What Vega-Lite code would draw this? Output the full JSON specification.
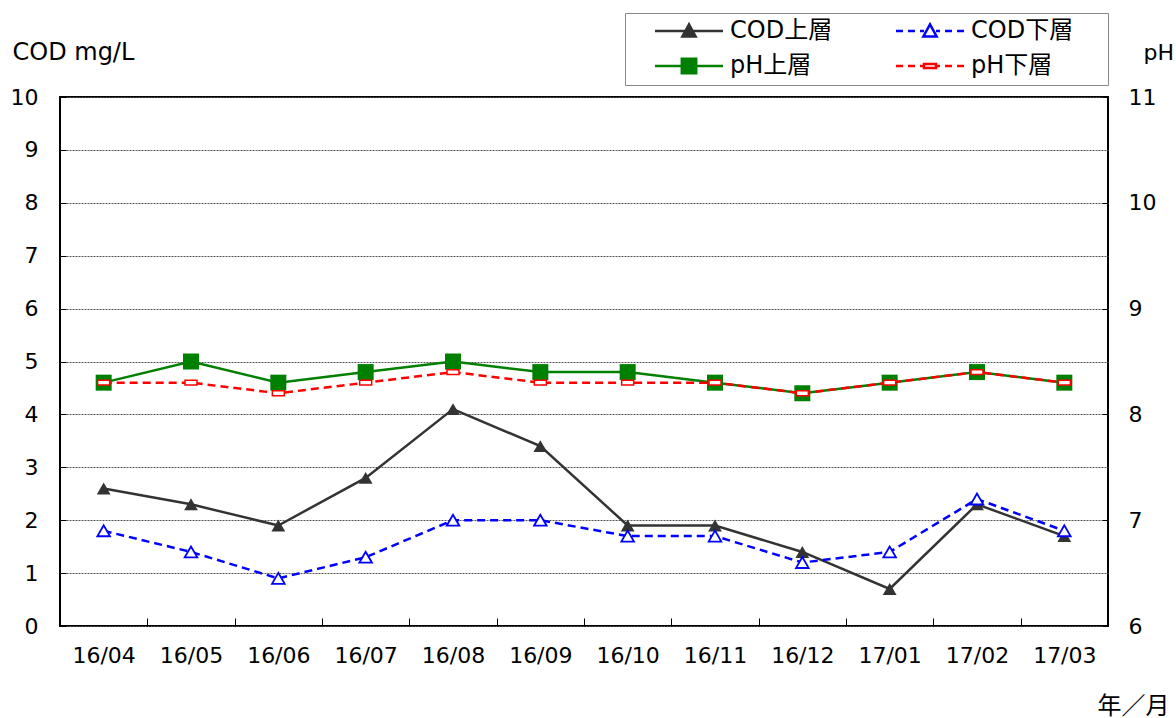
{
  "$schema": "https://vega.github.io/schema/vega-lite/v6.json",
  "width": 1048,
  "height": 529,
  "autosize": {"type": "none"},
  "padding": {"left": 60, "top": 97, "right": 68, "bottom": 92},
  "background": "white",
  "config": {
    "font": "DejaVu Sans, Noto Sans CJK JP",
    "view": {"stroke": "black", "strokeWidth": 2},
    "axis": {"labelFont": "DejaVu Sans, Noto Sans CJK JP", "titleFont": "DejaVu Sans, Noto Sans CJK JP", "labelColor": "black", "titleColor": "black", "titleFontWeight": "normal"}
  },
  "data": {
    "values": [
      {"month": "16/04", "cod_u": 2.6, "cod_l": 1.8, "ph_u": 8.3, "ph_l": 8.3},
      {"month": "16/05", "cod_u": 2.3, "cod_l": 1.4, "ph_u": 8.5, "ph_l": 8.3},
      {"month": "16/06", "cod_u": 1.9, "cod_l": 0.9, "ph_u": 8.3, "ph_l": 8.2},
      {"month": "16/07", "cod_u": 2.8, "cod_l": 1.3, "ph_u": 8.4, "ph_l": 8.3},
      {"month": "16/08", "cod_u": 4.1, "cod_l": 2.0, "ph_u": 8.5, "ph_l": 8.4},
      {"month": "16/09", "cod_u": 3.4, "cod_l": 2.0, "ph_u": 8.4, "ph_l": 8.3},
      {"month": "16/10", "cod_u": 1.9, "cod_l": 1.7, "ph_u": 8.4, "ph_l": 8.3},
      {"month": "16/11", "cod_u": 1.9, "cod_l": 1.7, "ph_u": 8.3, "ph_l": 8.3},
      {"month": "16/12", "cod_u": 1.4, "cod_l": 1.2, "ph_u": 8.2, "ph_l": 8.2},
      {"month": "17/01", "cod_u": 0.7, "cod_l": 1.4, "ph_u": 8.3, "ph_l": 8.3},
      {"month": "17/02", "cod_u": 2.3, "cod_l": 2.4, "ph_u": 8.4, "ph_l": 8.4},
      {"month": "17/03", "cod_u": 1.7, "cod_l": 1.8, "ph_u": 8.3, "ph_l": 8.3}
    ]
  },
  "encoding": {
    "x": {
      "field": "month", "type": "ordinal", "bandPosition": 0.5,
      "scale": {"type": "band", "paddingInner": 0, "paddingOuter": 0},
      "axis": {
        "title": "年／月", "titleFontSize": 24, "titleX": 1073, "titleY": 80, "titleBaseline": "middle", "titleAnchor": "middle",
        "labelAngle": 0, "labelFontSize": 22, "labelPadding": 27, "tickBand": "extent",
        "ticks": true, "tickSize": -8, "tickColor": "black", "tickWidth": 1, "domain": false, "grid": false
      }
    }
  },
  "layer": [
    {
      "encoding": {
        "y": {
          "type": "quantitative",
          "scale": {"domain": [6, 11], "nice": false, "zero": false},
          "axis": {
            "orient": "right", "values": [6, 7, 8, 9, 10, 11], "labelFontSize": 22, "labelPadding": 26,
            "tickSize": -6, "tickColor": "black", "domain": false, "grid": false,
            "title": "pH", "titleFontSize": 22, "titleAngle": 0, "titleX": 35, "titleY": -45, "titleAlign": "left", "titleBaseline": "middle"
          }
        }
      },
      "layer": [
        {
          "mark": {"type": "line", "strokeWidth": 2.5},
          "encoding": {
            "y": {"field": "ph_u"},
            "color": {
              "datum": "pH上層",
              "scale": {"domain": ["COD上層", "pH上層", "COD下層", "pH下層"], "range": ["#333333", "#008000", "#0000ff", "#ff0000"]},
              "legend": {
                "orient": "none", "legendX": 565, "legendY": -84, "columns": 2,
                "title": " ", "titleOrient": "right", "titlePadding": 29,
                "symbolSize": 144, "symbolStrokeWidth": 2.5, "symbolOffset": 46,
                "labelFontSize": 24, "labelFont": "DejaVu Sans, Noto Sans CJK JP", "labelColor": "black", "labelOffset": 29, "labelAlign": "left",
                "padding": 6, "rowPadding": 10, "columnPadding": 39,
                "strokeColor": "#888888", "fillColor": "white",
                "encode": {
                  "symbols": {
                    "update": {
                      "shape": {"signal": "datum.value === 'COD上層' ? 'M-5.67,0H5.67M0,-1.1L1.1,0.9H-1.1Z' : datum.value === 'COD下層' ? 'M-5.67,0H-4.5M-3.67,0H-2.5M-1.67,0H-1M1,0H1.67M2.5,0H3.67M4.5,0H5.67M0,-1.1L1.1,0.9H-1.1Z' : datum.value === 'pH上層' ? 'M-5.67,0H5.67M-1.2,-1.2H1.2V1.2H-1.2Z' : 'M-5.67,0H-4.5M-3.67,0H-2.5M-1.67,0H-1M1,0H1.67M2.5,0H3.67M4.5,0H5.67M-1,-0.35H1V0.35H-1Z'"},
                      "fill": {"signal": "datum.value === 'COD上層' ? '#333333' : datum.value === 'pH上層' ? '#008000' : 'white'"},
                      "stroke": {"signal": "datum.value === 'COD上層' ? '#333333' : datum.value === 'COD下層' ? '#0000ff' : datum.value === 'pH上層' ? '#008000' : '#ff0000'"},
                      "strokeWidth": {"value": 2.5},
                      "strokeDash": {"value": []},
                      "opacity": {"value": 1},
                      "fillOpacity": {"value": 1}
                    }
                  }
                }
              }
            }
          }
        },
        {
          "mark": {"type": "point", "shape": "square", "filled": true, "size": 256, "color": "#008000", "opacity": 1},
          "encoding": {"y": {"field": "ph_u"}}
        },
        {
          "mark": {"type": "line", "strokeWidth": 2.5, "strokeDash": [8, 5]},
          "encoding": {"y": {"field": "ph_l"}, "color": {"datum": "pH下層"}}
        },
        {
          "mark": {"type": "point", "shape": "M-1,-0.4H1V0.4H-1Z", "size": 144, "fill": "white", "stroke": "#ff0000", "strokeWidth": 1.5, "opacity": 1, "fillOpacity": 1},
          "encoding": {"y": {"field": "ph_l"}}
        }
      ]
    },
    {
      "encoding": {
        "y": {
          "type": "quantitative",
          "scale": {"domain": [0, 10], "nice": false},
          "axis": {
            "orient": "left", "values": [0, 1, 2, 3, 4, 5, 6, 7, 8, 9, 10], "labelFontSize": 22, "labelPadding": 28,
            "tickSize": -6, "tickColor": "black", "domain": false,
            "grid": true, "gridColor": "#555555", "gridDash": [2, 1], "gridWidth": 1,
            "title": "COD mg/L", "titleFontSize": 24, "titleAngle": 0, "titleX": -48, "titleY": -45, "titleAlign": "left", "titleBaseline": "middle"
          }
        }
      },
      "layer": [
        {
          "mark": {"type": "line", "strokeWidth": 2.5},
          "encoding": {"y": {"field": "cod_u"}, "color": {"datum": "COD上層"}}
        },
        {
          "mark": {"type": "point", "shape": "triangle-up", "filled": true, "size": 190, "color": "#333333", "opacity": 1},
          "encoding": {"y": {"field": "cod_u"}}
        },
        {
          "mark": {"type": "line", "strokeWidth": 2.5, "strokeDash": [8, 5]},
          "encoding": {"y": {"field": "cod_l"}, "color": {"datum": "COD下層"}}
        },
        {
          "mark": {"type": "point", "shape": "triangle-up", "size": 160, "fill": "white", "stroke": "#0000ff", "strokeWidth": 1.8, "opacity": 1, "fillOpacity": 1},
          "encoding": {"y": {"field": "cod_l"}}
        }
      ]
    }
  ],
  "resolve": {"scale": {"y": "independent"}}
}
